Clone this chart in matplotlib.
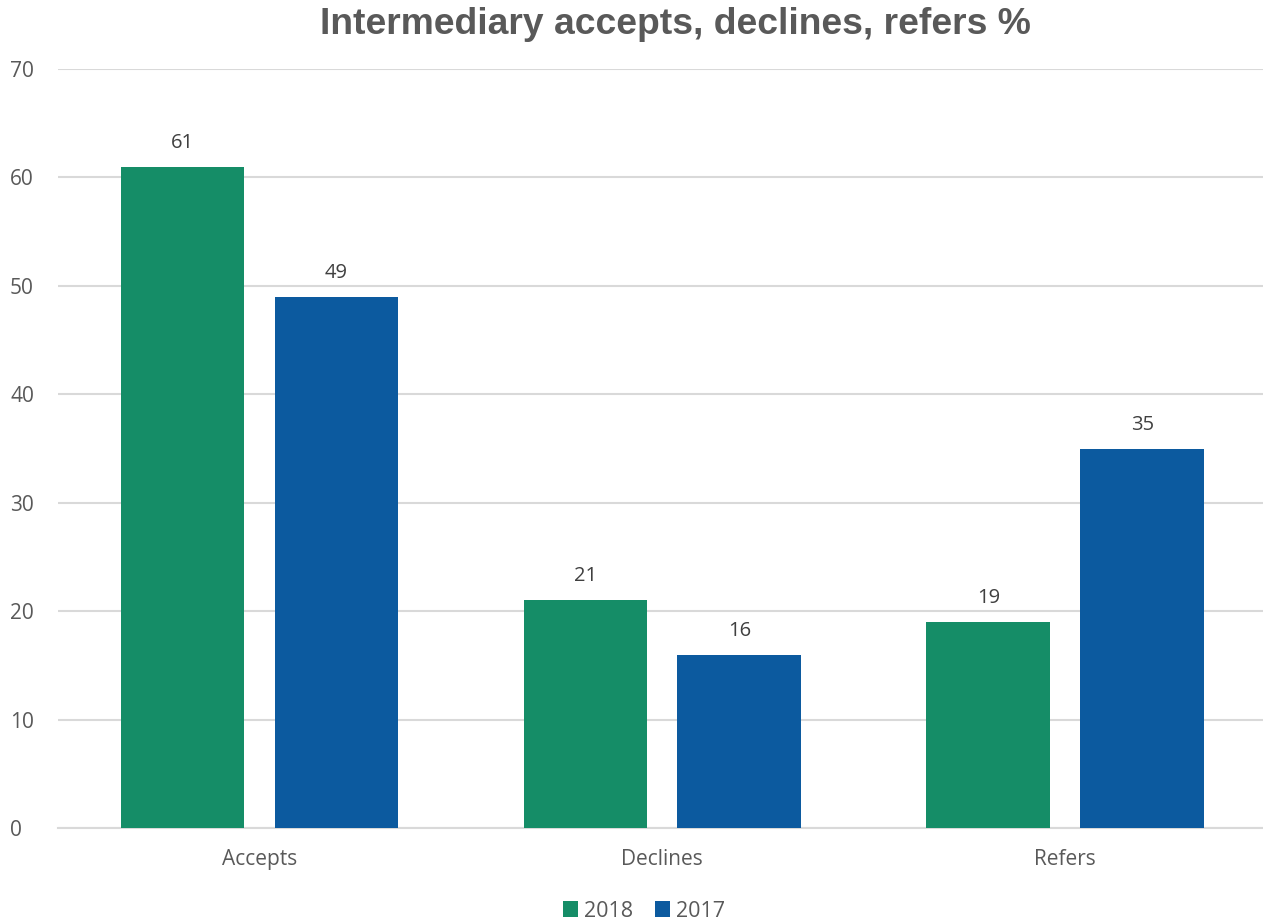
import matplotlib
matplotlib.use("Agg")
import matplotlib.pyplot as plt
import numpy as np

categories = ["Accepts", "Declines", "Refers"]
series_names = ["2018", "2017"]
values_2018 = [61, 21, 19]
values_2017 = [49, 16, 35]
yticks = [0, 10, 20, 30, 40, 50, 60, 70]

green = "#158D67"
blue = "#0C5A9F"
text_gray = "#595959"
grid_gray = "#D9D9D9"

plt.rcParams['font.family'] = ['Open Sans', 'DejaVu Sans']

fig = plt.figure(figsize=(12.63, 9.24), dpi=100)
ax = fig.add_axes([0.0459, 0.1039, 0.957, 0.8214])

x = np.arange(len(categories))
w = 0.307
off = 0.191
b1 = ax.bar(x - off, values_2018, w, color=green, label=series_names[0], zorder=3)
b2 = ax.bar(x + off, values_2017, w, color=blue, label=series_names[1], zorder=3)

for bars, vals in ((b1, values_2018), (b2, values_2017)):
    for rect, v in zip(bars, vals):
        ax.annotate(f"{v}", (rect.get_x() + rect.get_width() / 2, rect.get_height()),
                    xytext=(0, 10), textcoords="offset points", ha="center", va="bottom",
                    fontsize=14.5, color="#404040")

ax.set_xlim(-0.5, 2.5)
ax.set_ylim(0, 70)
ax.set_yticks(yticks)
ax.set_xticks(x)
ax.set_xticklabels(categories)
ax.tick_params(axis='both', length=0, labelsize=15, labelcolor=text_gray)
ax.tick_params(axis='x', pad=15)
for lab in ax.get_yticklabels():
    lab.set_horizontalalignment('left')
ax.yaxis.set_tick_params(pad=34.5)

ax.grid(axis='y', color=grid_gray, linewidth=1.5, zorder=0)
for s in ["top", "right", "left"]:
    ax.spines[s].set_visible(False)
ax.spines["bottom"].set_color(grid_gray)
ax.spines["bottom"].set_linewidth(1.5)

fig.text(0.535, 0.974, "Intermediary accepts, declines, refers %", ha="center", va="center",
         fontsize=26.8, fontweight="bold", color=text_gray, family=["Liberation Sans", "DejaVu Sans"])

leg = fig.legend(handles=[b1, b2], labels=series_names, loc="center", bbox_to_anchor=(0.51, 0.014),
                 ncol=2, frameon=False, fontsize=15.5, handlelength=0.7, handleheight=0.7,
                 handletextpad=0.3, columnspacing=1.0, labelcolor=text_gray)

fig.savefig("out.png", dpi=100)
